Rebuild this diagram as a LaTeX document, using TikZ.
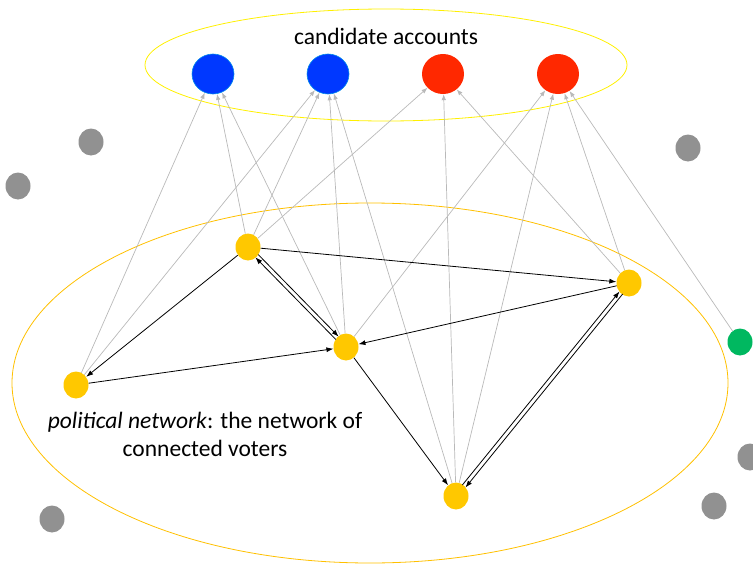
\documentclass[tikz,border=0pt]{standalone}
\usepackage{fontspec}
\setmainfont{Carlito}
\usetikzlibrary{calc,shapes.geometric,arrows.meta}
\definecolor{accblue}{RGB}{0,56,255}
\definecolor{accred}{RGB}{255,40,0}
\definecolor{votergold}{RGB}{255,200,0}
\definecolor{ringgold}{RGB}{255,192,0}
\definecolor{ringyellow}{RGB}{255,240,0}
\definecolor{othergray}{RGB}{145,145,145}
\definecolor{othergreen}{RGB}{0,184,96}
\definecolor{followgray}{RGB}{185,185,185}
\begin{document}
\begin{tikzpicture}[x=1pt,y=-1pt]
\tikzstyle{account}=[ellipse,minimum width=42pt,minimum height=40pt,inner sep=0pt]
\tikzstyle{voter}=[ellipse,fill=votergold,minimum width=25pt,minimum height=27pt,inner sep=0pt]
\tikzstyle{other}=[ellipse,fill=othergray,minimum width=25pt,minimum height=27pt,inner sep=0pt]
\tikzstyle{link}=[draw,line width=0.8pt,-{Latex[length=7pt,width=5pt]}]
\tikzstyle{pair}=[link,shorten <=12.5pt,shorten >=12.5pt]
\tikzstyle{follow}=[draw,followgray,line width=0.7pt,-{Latex[length=6pt,width=4.5pt]}]
\tikzstyle{label}=[font=\fontsize{23.5}{28}\selectfont,align=center]
\useasboundingbox(0,0)rectangle(753,565);
% rings
\path[draw,ringyellow,line width=0.8pt](386,65)ellipse[x radius=241,y radius=56];
\path[draw,ringgold,line width=0.8pt](370,383)ellipse[x radius=358,y radius=180];
\node[label](title)at(386,36){candidate accounts};
\node[label](netlabel)at(205,434){\textit{political network}: the network of\\connected voters};
% candidate accounts
\node[account,fill=accblue,draw={rgb,255:red,0;green,140;blue,235},line width=0.6pt](b1)at(213,74){};
\node[account,fill=accblue,draw={rgb,255:red,0;green,140;blue,235},line width=0.6pt](b2)at(328,74){};
\node[account,fill=accred](r1)at(443,74){};
\node[account,fill=accred](r2)at(558,74){};
% voters
\node[voter](va)at(248,247){};
\node[voter](vb)at(346,347){};
\node[voter](vc)at(629,283){};
\node[voter](vd)at(76,385){};
\node[voter](ve)at(456,496){};
% others
\node[ellipse,fill=othergreen,minimum width=25pt,minimum height=27pt,inner sep=0pt](vg)at(740,342){};
\node[other](o1)at(91,142){};
\node[other](o2)at(18,186){};
\node[other](o3)at(688,148){};
\node[other](o4)at(750,457){};
\node[other](o5)at(714,506){};
\node[other](o6)at(52,519){};
% follows
\foreach \s/\t in {vd/b1,va/b1,vb/b1,vd/b2,va/b2,vb/b2,ve/b2,va/r1,ve/r1,vc/r1,vb/r2,ve/r2,vc/r2,vg/r2}
  \path[follow](\s)--(\t);
% voter links
\path[link](va)--(vc);
\path[link](vc)--(vb);
\path[link](va)--(vd);
\path[link](vd)--(vb);
\path[link](vb)--(ve);
\path[pair]($(va)!2pt!90:(vb)$)--($(vb)!2pt!-90:(va)$);
\path[pair]($(vb)!2pt!90:(va)$)--($(va)!2pt!-90:(vb)$);
\path[pair]($(vc)!2pt!90:(ve)$)--($(ve)!2pt!-90:(vc)$);
\path[pair]($(ve)!2pt!90:(vc)$)--($(vc)!2pt!-90:(ve)$);
\end{tikzpicture}
\end{document}
